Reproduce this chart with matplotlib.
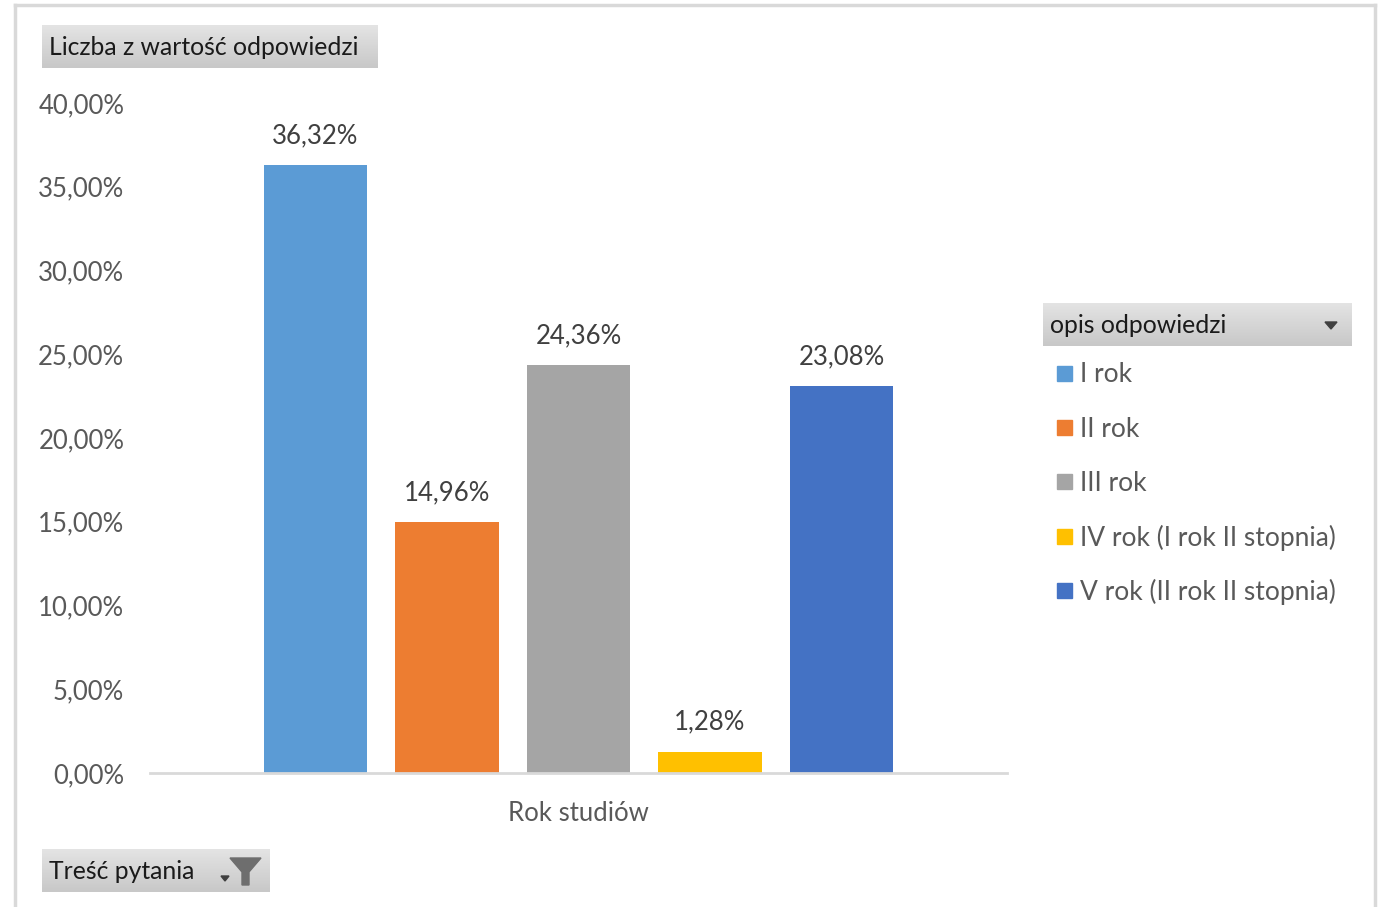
import numpy as np
import matplotlib.pyplot as plt
from matplotlib.patches import Rectangle, Polygon
from matplotlib.lines import Line2D
from matplotlib.colors import LinearSegmentedColormap

plt.rcParams['font.family'] = ['Lato', 'DejaVu Sans']

# Data ------------------------------------------------------------------------

categories = ['I rok', 'II rok', 'III rok',
              'IV rok (I rok II stopnia)', 'V rok (II rok II stopnia)']
values = [36.32, 14.96, 24.36, 1.28, 23.08]
colors = ['#5B9BD5', '#ED7D31', '#A5A5A5', '#FFC000', '#4472C4']
yticks = [0, 5, 10, 15, 20, 25, 30, 35, 40]
xlabel = 'Rok studiów'

W, H = 1384, 907
fig = plt.figure(figsize=(W / 100, H / 100), dpi=100)


def fx(px):
    return px / W


def fy(py):
    return 1 - py / H


def fmt(v):
    return ('%.2f%%' % v).replace('.', ',')


# Outer frame ------------------------------------------------------------------
frame = '#d9d9d9'
fig.add_artist(Line2D([fx(15), fx(1375)], [fy(5), fy(5)], color=frame, lw=2.5))
fig.add_artist(Line2D([fx(15), fx(15)], [fy(5), fy(907)], color=frame, lw=2.5))
fig.add_artist(Line2D([fx(1375), fx(1375)], [fy(5), fy(907)], color=frame, lw=2.5))

# Chart area -------------------------------------------------------------------
ax = fig.add_axes([fx(150), fy(773), fx(1007) - fx(150), fy(103) - fy(773)])
pos = np.arange(len(values))
ax.bar(pos, values, width=0.79, color=colors, zorder=2)
for p, v in zip(pos, values):
    ax.text(p, v + 1.0, fmt(v), ha='center', va='bottom',
            fontsize=18.5, color='#404040')
ax.set_xlim(-1.258, 5.258)
ax.set_ylim(0, 40)
ax.set_yticks(yticks)
ax.set_yticklabels([fmt(t) for t in yticks], fontsize=18.5, color='#595959')
ax.tick_params(axis='y', length=0, pad=18.5)
ax.set_xticks([2])
ax.set_xticklabels([xlabel], fontsize=18.5, color='#595959')
ax.tick_params(axis='x', length=0, pad=20)
for s in ['top', 'right', 'left']:
    ax.spines[s].set_visible(False)
ax.spines['bottom'].set_color('#d9d9d9')
ax.spines['bottom'].set_linewidth(2)


# Gray field buttons -----------------------------------------------------------
grad = np.linspace(0, 1, 50).reshape(-1, 1)
gcmap = LinearSegmentedColormap.from_list('g', ['#e4e4e4', '#c8c8c8'])


def button(x0, y0, x1, y1, text):
    bax = fig.add_axes([fx(x0), fy(y1), fx(x1) - fx(x0), fy(y0) - fy(y1)])
    bax.imshow(grad, aspect='auto', cmap=gcmap, extent=[0, 1, 0, 1])
    bax.set_axis_off()
    fig.text(fx(x0 + 7), fy((y0 + y1) / 2 + 1), text, ha='left', va='center',
             fontsize=17.8, color='#1a1a1a')
    return bax


button(42, 25, 378, 68, 'Liczba z wartość odpowiedzi')
button(42, 849, 270, 892, 'Treść pytania')
button(1043, 303, 1352, 346, 'opis odpowiedzi')

# dropdown arrow in legend header
fig.add_artist(Polygon([[fx(1325), fy(322)], [fx(1337), fy(322)], [fx(1331), fy(329)]],
                       closed=True, color='#404040'))
# filter icon
fig.add_artist(Polygon([[fx(230), fy(858)], [fx(261), fy(858)], [fx(249), fy(872)],
                        [fx(249), fy(885)], [fx(242), fy(885)], [fx(242), fy(872)]],
                       closed=True, color='#6e6e6e'))
fig.add_artist(Polygon([[fx(221), fy(876)], [fx(229), fy(876)], [fx(225), fy(881)]],
                       closed=True, color='#404040'))

# Legend -----------------------------------------------------------------------
for i, (c, lab) in enumerate(zip(colors, categories)):
    yc = 374 + i * 54.2
    fig.add_artist(Rectangle((fx(1057), fy(yc + 7)), fx(15), 15 / H, color=c))
    fig.text(fx(1080), fy(yc + 1), lab, ha='left', va='center',
             fontsize=19, color='#595959')

fig.savefig('out.png', dpi=100)
